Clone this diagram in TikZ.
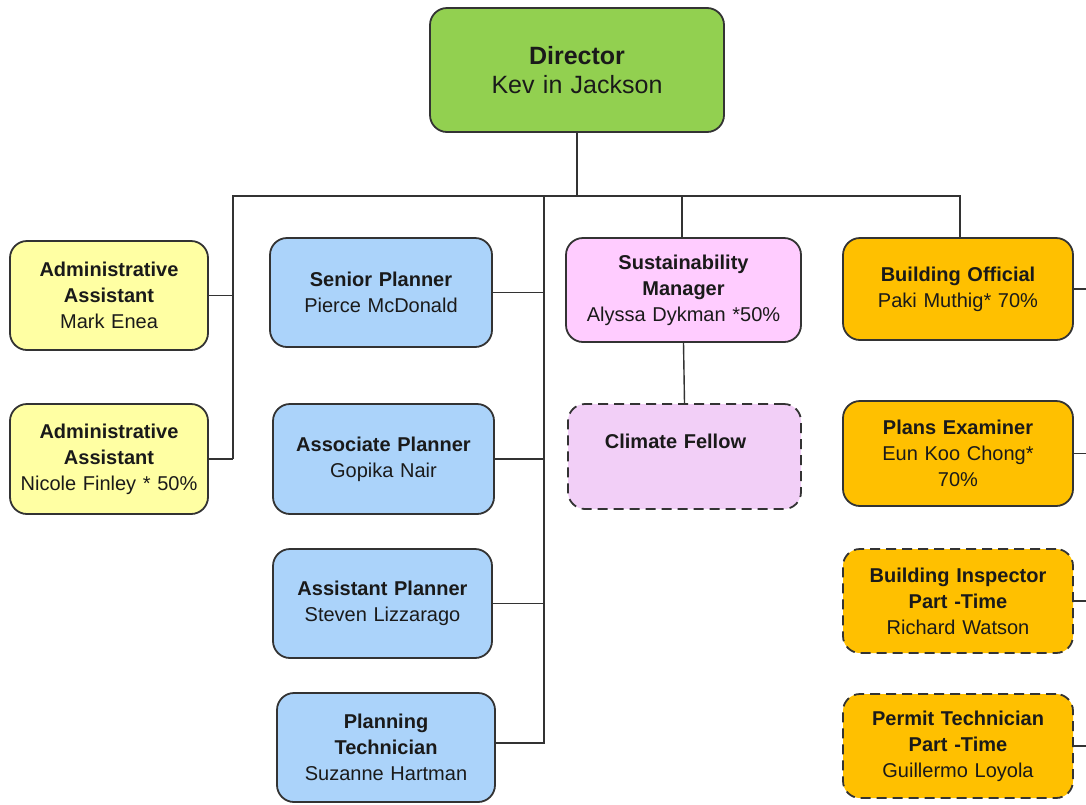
\documentclass[tikz,border=0pt]{standalone}
\usepackage{fontspec}
\setmainfont{Liberation Sans}
\definecolor{cgreen}{HTML}{92D050}
\definecolor{cyellow}{HTML}{FFFFA3}
\definecolor{cblue}{HTML}{ABD3FA}
\definecolor{cpink}{HTML}{FFCCFF}
\definecolor{clpink}{HTML}{F2CFF7}
\definecolor{corange}{HTML}{FFC000}
\definecolor{cline}{HTML}{333333}
\definecolor{ctext}{HTML}{1A1A1A}
\begin{document}
\begin{tikzpicture}[x=1pt,y=-1pt,
  box/.style={draw=cline, line width=1.8pt, rounded corners=17pt, align=center,
    text=ctext, inner sep=2pt, font=\fontsize{20}{26}\selectfont},
  dashbox/.style={box, dash pattern=on 10pt off 6pt},
  conn/.style={draw=cline, line width=1.4pt}]
\useasboundingbox (0,0) rectangle (1086,804);

\node[box, fill=cgreen, minimum width=294pt, minimum height=124pt, text width=286pt,
  font=\fontsize{25}{29}\selectfont] (dir) at (577,70) {\textbf{Director}\\Kev in Jackson};

\node[box, fill=cyellow, minimum width=196pt, minimum height=109pt, text width=194pt] (aa1) at (109,295.5)
  {\textbf{Administrative}\\\textbf{Assistant}\\Mark Enea};
\node[box, fill=cyellow, minimum width=196pt, minimum height=110pt, text width=194pt] (aa2) at (109,459)
  {\textbf{Administrative}\\\textbf{Assistant}\\Nicole Finley * 50\%};

\node[box, fill=cblue, minimum width=222pt, minimum height=109pt, text width=214pt] (sp) at (381,292.5)
  {\textbf{Senior Planner}\\Pierce McDonald};
\node[box, fill=cblue, minimum width=221pt, minimum height=110pt, text width=213pt] (ap) at (383.5,459)
  {\textbf{Associate Planner}\\Gopika Nair};
\node[box, fill=cblue, minimum width=219pt, minimum height=109pt, text width=211pt] (asp) at (382.5,603.5)
  {\textbf{Assistant Planner}\\Steven Lizzarago};
\node[box, fill=cblue, minimum width=218pt, minimum height=109pt, text width=210pt] (ptech) at (386,747.5)
  {\textbf{Planning}\\\textbf{Technician}\\Suzanne Hartman};

\node[box, fill=cpink, minimum width=235pt, minimum height=104pt, text width=227pt] (sm) at (683.5,290)
  {\textbf{Sustainability}\\\textbf{Manager}\\Alyssa Dykman *50\%};
\node[dashbox, fill=clpink, minimum width=233pt, minimum height=105pt, text width=215pt] (cf) at (684.5,456.5)
  {\hspace*{-18pt}\textbf{Climate Fellow}\\[4pt]~};

\node[box, fill=corange, minimum width=230pt, minimum height=102pt, text width=222pt] (bo) at (958,289)
  {\textbf{Building Official}\\Paki Muthig* 70\%};
\node[box, fill=corange, minimum width=230pt, minimum height=105pt, text width=222pt] (pe) at (958,453.5)
  {\textbf{Plans Examiner}\\Eun Koo Chong*\\70\%};
\node[dashbox, fill=corange, minimum width=230pt, minimum height=104pt, text width=222pt] (bi) at (958,601)
  {\textbf{Building Inspector}\\\textbf{Part -Time}\\Richard Watson};
\node[dashbox, fill=corange, minimum width=230pt, minimum height=104pt, text width=222pt] (ptc) at (958,746)
  {\textbf{Permit Technician}\\\textbf{Part -Time}\\Guillermo Loyola};

\coordinate (busL) at (233,196);
\coordinate (busR) at (960,196);
\coordinate (pTop) at (544,196);
\coordinate (pBot) at (544,743);
\coordinate (sTop) at (682,196);
\coordinate (eR) at (1086,0);

\draw[conn] (dir.south) -- (dir.south |- busL);
\draw[conn] (busL |- aa2.east) -- (busL) -- (busR) -- (busR |- bo.north);
\draw[conn] (aa1.east) -- (aa1.east -| busL);
\draw[conn] (aa2.east) -- (aa2.east -| busL);
\draw[conn] (pTop) -- (pBot) -- (pBot -| ptech.east);
\draw[conn] (sp.east) -- (sp.east -| pTop);
\draw[conn] (ap.east) -- (ap.east -| pTop);
\draw[conn] (asp.east) -- (asp.east -| pTop);
\draw[conn] (sTop) -- (sTop |- sm.north);
\draw[conn] (sm.south) -- (cf.north);
\draw[conn] (bo.east) -- (bo.east -| eR);
\draw[conn] (pe.east) -- (pe.east -| eR);
\draw[conn] (bi.east) -- (bi.east -| eR);
\draw[conn] (ptc.east) -- (ptc.east -| eR);
\end{tikzpicture}
\end{document}
